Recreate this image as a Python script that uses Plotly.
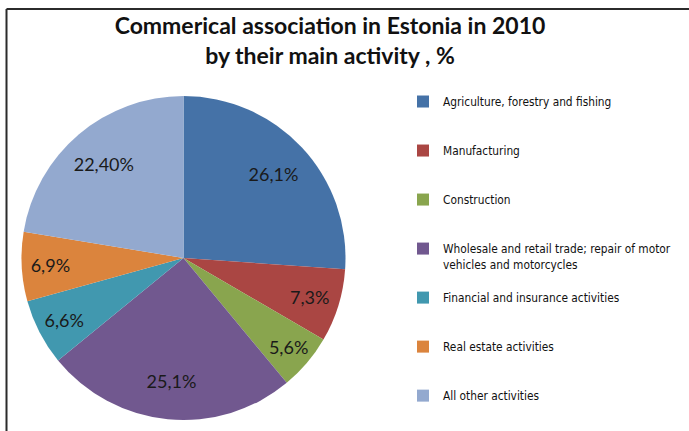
import plotly.graph_objects as go

# Commercial associations in Estonia, 2010, share by main activity (%)
activities = [
    "Agriculture, forestry and fishing",
    "Manufacturing",
    "Construction",
    "Wholesale and retail trade; repair of motor<br>vehicles and motorcycles",
    "Financial and insurance activities",
    "Real estate activities",
    "All other activities",
]
shares = [26.1, 7.3, 5.6, 25.1, 6.6, 6.9, 22.4]
share_labels = ["26,1%", "7,3%", "5,6%", "25,1%", "6,6%", "6,9%", "22,40%"]
colors = ["#4572A7", "#AA4643", "#89A54E", "#71588F", "#4198AF", "#DB843D", "#93A9CF"]

W, H = 689, 431
pie_domain = dict(x=[21.5 / W, 345.5 / W], y=[11 / H, 335 / H])

# pad each legend entry to three lines so entries sit evenly spaced
legend_names = ["\u00a0<br>" + a + ("" if "<br>" in a else "<br>\u00a0") for a in activities]

fig = go.Figure()

# coloured slices
fig.add_trace(
    go.Pie(
        labels=legend_names,
        values=shares,
        textinfo="none",
        sort=False,
        direction="clockwise",
        rotation=0,
        marker=dict(colors=colors, line=dict(width=0)),
        domain=pie_domain,
        hoverinfo="skip",
    )
)

# transparent ring carrying the value labels towards the outer part of each slice
fig.add_trace(
    go.Pie(
        labels=activities,
        values=shares,
        text=share_labels,
        texttemplate="%{text}",
        textposition="inside",
        insidetextorientation="horizontal",
        textfont=dict(family="Lato, Open Sans, sans-serif", size=18, color="#1a1a1a"),
        hole=0.52,
        sort=False,
        direction="clockwise",
        rotation=0,
        marker=dict(colors=["rgba(0,0,0,0)"] * len(shares), line=dict(width=0)),
        domain=pie_domain,
        showlegend=False,
        hoverinfo="skip",
    )
)

fig.update_layout(
    width=W,
    height=H,
    margin=dict(l=0, r=0, t=0, b=0, autoexpand=False),
    paper_bgcolor="white",
    plot_bgcolor="white",
    title=dict(
        text="<b>Commerical association in Estonia in 2010<br>by their main activity , %</b>",
        x=330 / W,
        xanchor="center",
        y=1 - 34 / H,
        yanchor="top",
        font=dict(family="Lato, Open Sans, sans-serif", size=23, color="#111111"),
    ),
    legend=dict(
        x=403 / W,
        xanchor="left",
        y=1 - 72 / H,
        yanchor="top",
        font=dict(family="Liberation Sans Narrow, DejaVu Sans Condensed, Lato, sans-serif", size=11.8, color="#111111"),
        bgcolor="rgba(0,0,0,0)",
        itemclick=False,
    ),
    shapes=[
        dict(type="line", xref="paper", yref="paper", x0=6.5 / W, x1=1, y0=1 - 9 / H, y1=1 - 9 / H,
             line=dict(color="#2b2b2b", width=2)),
        dict(type="line", xref="paper", yref="paper", x0=6.5 / W, x1=6.5 / W, y0=0, y1=1 - 9 / H,
             line=dict(color="#2b2b2b", width=2)),
    ],
)

fig.write_html("out.html")
